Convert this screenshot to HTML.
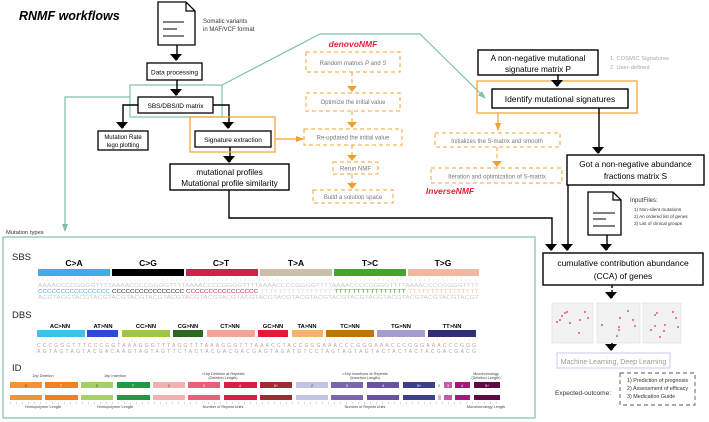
<!DOCTYPE html>
<html><head><meta charset="utf-8"><style>
html,body{margin:0;padding:0;background:#fff;}
svg{display:block;font-family:"Liberation Sans",sans-serif;}
</style></head><body>
<svg width="709" height="422" viewBox="0 0 709 422" xmlns="http://www.w3.org/2000/svg">
<defs>
<marker id="ab" markerWidth="6" markerHeight="5" refX="5" refY="2.5" orient="auto" markerUnits="userSpaceOnUse" viewBox="0 0 6 5"><path d="M0,0 L6,2.5 L0,5z" fill="#000"/></marker>
<marker id="abig" markerWidth="12" markerHeight="7" refX="7" refY="6" orient="0" markerUnits="userSpaceOnUse" viewBox="0 0 12 7"><path d="M0,0 L12,0 L6,7z" fill="#000"/></marker>
<marker id="ao" markerWidth="8" markerHeight="6" refX="7" refY="3" orient="auto" markerUnits="userSpaceOnUse"><path d="M0,0 L8,3 L0,6z" fill="#f0a030"/></marker>
<marker id="at" markerWidth="8" markerHeight="6" refX="7" refY="3" orient="auto" markerUnits="userSpaceOnUse"><path d="M0,0 L8,3 L0,6z" fill="#7fc0aa"/></marker>
</defs>

<text x="19" y="20" font-size="12.5" font-weight="bold" font-style="italic">RNMF workflows</text>

<!-- doc icon 1 -->
<path d="M158,2 L186,2 L195,11 L195,45 L158,45z" fill="#fff" stroke="#000" stroke-width="1.3"/>
<path d="M186,2 L186,11 L195,11" fill="none" stroke="#000" stroke-width="1.2"/>
<line x1="163" y1="22" x2="184" y2="22" stroke="#000"/>
<line x1="163" y1="29" x2="177" y2="29" stroke="#000"/>
<line x1="163" y1="36" x2="184" y2="36" stroke="#000"/>
<text x="203" y="23" font-size="6" fill="#333">Somatic variants</text>
<text x="203" y="31" font-size="6" fill="#333">in MAF/VCF format</text>

<!-- teal lines -->
<g stroke="#7fc0aa" stroke-width="1.2" fill="none">
<rect x="130" y="85" width="92" height="32"/>
<polyline points="222,85 320,34 420,34 485,98" marker-end="url(#at)"/>
<polyline points="130,97 65,97 65,231" marker-end="url(#at)"/>
<rect x="3" y="237" width="532" height="181"/>
</g>

<!-- left flow -->
<g stroke="#000" stroke-width="1.4" fill="none">
<line x1="177" y1="45" x2="177" y2="60" marker-end="url(#abig)"/>
<line x1="177" y1="80" x2="177" y2="95" marker-end="url(#abig)"/>
<polyline points="138,105 123,105 123,128" marker-end="url(#abig)"/>
<polyline points="213,105 229,105 229,128" marker-end="url(#abig)"/>
<line x1="230" y1="147" x2="230" y2="162" marker-end="url(#abig)"/>
<polyline points="229,190 229,218 552,218 552,250" marker-end="url(#abig)"/>
</g>
<rect x="147" y="63" width="55" height="17" fill="#fff" stroke="#000" stroke-width="1.3"/>
<text x="174.5" y="74.5" font-size="6.5" text-anchor="middle">Data processing</text>
<rect x="138" y="97" width="75" height="16" fill="#fff" stroke="#000" stroke-width="1.3"/>
<text x="175.5" y="108" font-size="6.5" text-anchor="middle">SBS/DBS/ID matrix</text>
<rect x="98" y="131" width="50" height="19" fill="#fff" stroke="#000" stroke-width="1.3"/>
<text x="123" y="139" font-size="6" text-anchor="middle">Mutation Rate</text>
<text x="123" y="147" font-size="6" text-anchor="middle">lego plotting</text>
<rect x="190" y="117" width="85" height="35" fill="none" stroke="#f0a030" stroke-width="1.2"/>
<rect x="195" y="131" width="76" height="16" fill="#fff" stroke="#000" stroke-width="1.3"/>
<text x="233" y="142" font-size="6.5" text-anchor="middle">Signature extraction</text>
<line x1="275" y1="139" x2="303" y2="139" stroke="#f0a030" stroke-width="1.2" marker-end="url(#ao)"/>
<rect x="170" y="164" width="119" height="26" fill="#fff" stroke="#000" stroke-width="1.4"/>
<text x="229.5" y="175" font-size="8.2" text-anchor="middle">mutational profiles</text>
<text x="229.5" y="186" font-size="8.2" text-anchor="middle">Mutational profile similarity</text>

<!-- denovoNMF -->
<text x="353" y="47" font-size="8.5" font-weight="bold" font-style="italic" fill="#e8203a" text-anchor="middle">denovoNMF</text>
<g fill="#fff" stroke="#f0a030" stroke-width="1" stroke-dasharray="4,3">
<rect x="306" y="52" width="94" height="20"/>
<rect x="306" y="93" width="94" height="18"/>
<rect x="304" y="129" width="98" height="16"/>
<rect x="333" y="162" width="45" height="12"/>
<rect x="313" y="190" width="80" height="13"/>
<line x1="352" y1="72" x2="352" y2="88"/>
<line x1="352" y1="111" x2="352" y2="124"/>
<line x1="352" y1="145" x2="352" y2="157"/>
<line x1="352" y1="174" x2="352" y2="185"/>
</g>
<g fill="#f0a030"><path d="M347,86 L357,86 L352,92z"/><path d="M347,122 L357,122 L352,128z"/><path d="M347,155 L357,155 L352,161z"/><path d="M347,183 L357,183 L352,189z"/></g>
<g font-size="6" fill="#777" text-anchor="middle">
<text x="353" y="65">Random matrixs <tspan font-style="italic">P</tspan> and <tspan font-style="italic">S</tspan></text>
<text x="353" y="104">Optimize the initial value</text>
<text x="353" y="139.5">Re-updated the initial value</text>
<text x="355.5" y="170.5">Rerun NMF</text>
<text x="353" y="199">Build a solution space</text>
</g>

<!-- right top -->
<rect x="478" y="50" width="120" height="25" fill="#fff" stroke="#000" stroke-width="1.4"/>
<text x="538" y="61" font-size="8.2" text-anchor="middle">A non-negative mutational</text>
<text x="538" y="72" font-size="8.2" text-anchor="middle">signature matrix P</text>
<text x="610" y="60" font-size="5.8" fill="#aaa">1. COSMIC Signatures</text>
<text x="610" y="69" font-size="5.8" fill="#aaa">2. User-defined</text>
<rect x="477" y="81" width="160" height="32" fill="none" stroke="#f0a030" stroke-width="1.2"/>
<line x1="558" y1="75" x2="558" y2="86" stroke="#000" stroke-width="1.4" marker-end="url(#abig)"/>
<rect x="492" y="89" width="136" height="19" fill="#fff" stroke="#000" stroke-width="1.4"/>
<text x="560" y="102" font-size="8.5" text-anchor="middle">Identify mutational signatures</text>
<line x1="498" y1="113" x2="498" y2="130" stroke="#f0a030" stroke-width="1.2" marker-end="url(#ao)"/>
<line x1="599" y1="108" x2="599" y2="153" stroke="#000" stroke-width="1.4" marker-end="url(#abig)"/>
<g fill="#fff" stroke="#f0a030" stroke-width="1" stroke-dasharray="4,3">
<rect x="435" y="133" width="125" height="14"/>
<rect x="431" y="168" width="131" height="15"/>
<line x1="497" y1="147" x2="497" y2="162"/>
</g>
<path d="M492,161 L502,161 L497,167z" fill="#f0a030"/>
<text x="497" y="143" font-size="6" fill="#777" text-anchor="middle">Initializes the S-matrix and smooth</text>
<text x="497" y="178.5" font-size="6" fill="#777" text-anchor="middle">Iteration and optimization of S-matrix</text>
<text x="450" y="194" font-size="8.5" font-weight="bold" font-style="italic" fill="#e8203a" text-anchor="middle">InverseNMF</text>

<rect x="567" y="155" width="137" height="30" fill="#fff" stroke="#000" stroke-width="1.4"/>
<text x="635.5" y="167" font-size="8.2" text-anchor="middle">Got a non-negative abundance</text>
<text x="635.5" y="179" font-size="8.2" text-anchor="middle">fractions matrix S</text>
<line x1="568" y1="185" x2="568" y2="250" stroke="#000" stroke-width="1.4" marker-end="url(#abig)"/>

<!-- doc icon 2 -->
<path d="M588,192 L613,192 L621,200 L621,235 L588,235z" fill="#fff" stroke="#000" stroke-width="1.3"/>
<path d="M613,192 L613,200 L621,200" fill="none" stroke="#000" stroke-width="1.2"/>
<line x1="593" y1="213" x2="615" y2="213" stroke="#000"/>
<line x1="593" y1="219" x2="606" y2="219" stroke="#000"/>
<line x1="593" y1="226" x2="615" y2="226" stroke="#000"/>
<line x1="607" y1="235" x2="607" y2="250" stroke="#000" stroke-width="1.4" marker-end="url(#abig)"/>
<text x="630" y="202" font-size="6" fill="#333">InputFiles:</text>
<text x="634" y="211" font-size="4.6" fill="#333">1) Non-silent mutations</text>
<text x="634" y="218" font-size="4.6" fill="#333">2) An ordered list of genes</text>
<text x="634" y="225" font-size="4.6" fill="#333">3) List of clinical groups</text>

<rect x="543" y="253" width="160" height="32" fill="#fff" stroke="#000" stroke-width="1.4"/>
<text x="623" y="266" font-size="8.5" text-anchor="middle">cumulative contribution abundance</text>
<text x="623" y="279" font-size="8.5" text-anchor="middle">(CCA) of genes</text>
<line x1="612" y1="285" x2="612" y2="298" stroke="#000" stroke-width="1.4" stroke-dasharray="3,2" marker-end="url(#abig)"/>

<g fill="#f2f2f2" stroke="#ddd" stroke-width="0.6">
<rect x="552" y="303" width="41" height="40"/><rect x="597" y="303" width="43" height="40"/><rect x="643" y="303" width="38" height="40"/>
</g>
<g fill="#e03040">
<circle cx="562" cy="316" r="0.9"/><circle cx="565" cy="313" r="0.9"/><circle cx="567" cy="312" r="0.9"/><circle cx="560" cy="320" r="0.9"/><circle cx="585" cy="312" r="0.9"/><circle cx="580" cy="320" r="0.9"/><circle cx="588" cy="318" r="0.9"/><circle cx="570" cy="323" r="0.9"/><circle cx="579" cy="333" r="0.9"/><circle cx="557" cy="322" r="0.9"/>
<circle cx="628" cy="311" r="0.9"/><circle cx="633" cy="320" r="0.9"/><circle cx="619" cy="327" r="0.9"/><circle cx="619" cy="330" r="0.9"/><circle cx="602" cy="325" r="0.9"/><circle cx="617" cy="336" r="0.9"/><circle cx="635" cy="326" r="0.9"/><circle cx="620" cy="318" r="0.9"/>
<circle cx="655" cy="315" r="0.9"/><circle cx="657" cy="313" r="0.9"/><circle cx="673" cy="312" r="0.9"/><circle cx="676" cy="318" r="0.9"/><circle cx="665" cy="325" r="0.9"/><circle cx="655" cy="326" r="0.9"/><circle cx="664" cy="331" r="0.9"/><circle cx="651" cy="330" r="0.9"/><circle cx="678" cy="327" r="0.9"/><circle cx="660" cy="337" r="0.9"/>
</g>
<line x1="612" y1="343" x2="612" y2="350" stroke="#000" stroke-width="1.4" marker-end="url(#abig)"/>
<rect x="557" y="353" width="113" height="15" fill="#fff" stroke="#c8c8e8" stroke-width="1"/>
<text x="613.5" y="364" font-size="7" fill="#999" text-anchor="middle">Machine Learning, Deep Learning</text>
<text x="555" y="395" font-size="6.5" fill="#333">Expected-outcome:</text>
<rect x="620" y="373" width="75" height="32" fill="none" stroke="#555" stroke-width="0.9" stroke-dasharray="4,3"/>
<text x="627" y="382" font-size="5.4" fill="#333">1) Prediction of prognosis</text>
<text x="627" y="390" font-size="5.4" fill="#333">2) Assessment of efficacy</text>
<text x="627" y="398" font-size="5.4" fill="#333">3) Medication Guide</text>

<!-- mutation types -->
<text x="6" y="234" font-size="5.8" fill="#333">Mutation types</text>
<text x="12" y="260" font-size="9.5" fill="#222">SBS</text>
<g font-size="8.5" font-weight="bold" text-anchor="middle">
<text x="74" y="266">C&gt;A</text><text x="148" y="266">C&gt;G</text><text x="221" y="266">C&gt;T</text><text x="296" y="266">T&gt;A</text><text x="370" y="266">T&gt;C</text><text x="443" y="266">T&gt;G</text>
</g>
<rect x="38" y="269" width="72" height="7" fill="#3caee0"/><rect x="112" y="269" width="72" height="7" fill="#000"/><rect x="186" y="269" width="72" height="7" fill="#d3204a"/><rect x="260" y="269" width="72" height="7" fill="#cbbfa7"/><rect x="334" y="269" width="72" height="7" fill="#48a131"/><rect x="408" y="269" width="71" height="7" fill="#f3b79d"/>
<line x1="38" y1="280" x2="479" y2="280" stroke="#bbb" stroke-width="1.2" stroke-dasharray="0.5,4.1"/>
<g font-size="5" font-family="Liberation Sans,sans-serif">
<text x="38" y="287" textLength="441" lengthAdjust="spacingAndGlyphs" fill="#ccc">AAAACCCCGGGGTTTTAAAACCCCGGGGTTTTAAAACCCCGGGGTTTTAAAACCCCGGGGTTTTAAAACCCCGGGGTTTTAAAACCCCGGGGTTTT</text>
<text x="38" y="293" textLength="72" lengthAdjust="spacingAndGlyphs" fill="#3caee0">CCCCCCCCCCCCCCCC</text>
<text x="112" y="293" textLength="72" lengthAdjust="spacingAndGlyphs" fill="#222">CCCCCCCCCCCCCCCC</text>
<text x="186" y="293" textLength="72" lengthAdjust="spacingAndGlyphs" fill="#d3204a">CCCCCCCCCCCCCCCC</text>
<text x="260" y="293" textLength="72" lengthAdjust="spacingAndGlyphs" fill="#ddd">TTTTTTTTTTTTTTTT</text>
<text x="334" y="293" textLength="72" lengthAdjust="spacingAndGlyphs" fill="#48a131">TTTTTTTTTTTTTTTT</text>
<text x="408" y="293" textLength="71" lengthAdjust="spacingAndGlyphs" fill="#f3c5b0">TTTTTTTTTTTTTTTT</text>
<text x="38" y="299" textLength="441" lengthAdjust="spacingAndGlyphs" fill="#ccc">ACGTACGTACGTACGTACGTACGTACGTACGTACGTACGTACGTACGTACGTACGTACGTACGTACGTACGTACGTACGTACGTACGTACGTACGT</text>
</g>

<text x="12" y="318" font-size="9.5" fill="#222">DBS</text>
<g font-size="5.8" font-weight="bold" text-anchor="middle">
<text x="60" y="328">AC&gt;NN</text><text x="103" y="328">AT&gt;NN</text><text x="146" y="328">CC&gt;NN</text><text x="188" y="328">CG&gt;NN</text><text x="230" y="328">CT&gt;NN</text><text x="273" y="328">GC&gt;NN</text><text x="307" y="328">TA&gt;NN</text><text x="350" y="328">TC&gt;NN</text><text x="401" y="328">TG&gt;NN</text><text x="452" y="328">TT&gt;NN</text>
</g>
<rect x="37" y="330" width="48" height="7" fill="#3fc0ee"/><rect x="87" y="330" width="31" height="7" fill="#2f4bd6"/><rect x="122" y="330" width="48" height="7" fill="#9fc541"/><rect x="173" y="330" width="30" height="7" fill="#2b6b21"/><rect x="207" y="330" width="48" height="7" fill="#f4a29a"/><rect x="258" y="330" width="30" height="7" fill="#e21a39"/><rect x="292" y="330" width="31" height="7" fill="#f7b26c"/><rect x="326" y="330" width="48" height="7" fill="#c2720c"/><rect x="377" y="330" width="48" height="7" fill="#a69ccf"/><rect x="428" y="330" width="48" height="7" fill="#322d79"/>
<line x1="37" y1="340" x2="476" y2="340" stroke="#ccc" stroke-width="1" stroke-dasharray="0.5,4"/>
<text x="37" y="347" font-size="5" fill="#c99" textLength="439" lengthAdjust="spacing">CCCGGGTTTCCCGGTAAAGGGTTTAGGTTTAAAGGGTTTAAACCTACCGGGAAACCCGGGAAACCCGGGAAACCCGGG</text>
<text x="37" y="353" font-size="5" fill="#aaa" textLength="439" lengthAdjust="spacing">AGTAGTAGTACGACAAGTAGTAGTTCTACTACGACGACGAGTAGATGTCCTAGTAGTAGTACTACTACTACGACGACG</text>

<text x="12" y="371" font-size="9.5" fill="#222">ID</text>
<g font-size="3.8" fill="#444" text-anchor="middle">
<text x="43" y="377">1bp Deletion</text><text x="115" y="377">1bp Insertion</text>
<text x="223" y="375">&gt;1bp Deletion at Repeats</text><text x="223" y="379">(Deletion Length)</text>
<text x="365" y="375">&gt;1bp Insertions at Repeats</text><text x="365" y="379">(Insertion Length)</text>
<text x="486" y="375">Microhomology</text><text x="486" y="379">(Deletion Length)</text>
<text x="43" y="408">Homopolymer Length</text><text x="115" y="408">Homopolymer Length</text>
<text x="223" y="408">Number of Repeat Units</text><text x="365" y="408">Number of Repeat Units</text><text x="486" y="408">Microhomology Length</text>
</g>
<g>
<rect x="10" y="382" width="32" height="6" fill="#f39237"/><rect x="45" y="382" width="33" height="6" fill="#f08020"/>
<rect x="81" y="382" width="32" height="6" fill="#a4d065"/><rect x="117" y="382" width="33" height="6" fill="#1f9a43"/>
<rect x="153" y="382" width="32" height="6" fill="#f3b0b0"/><rect x="188" y="382" width="32" height="6" fill="#e9607a"/><rect x="224" y="382" width="33" height="6" fill="#d51f45"/><rect x="260" y="382" width="32" height="6" fill="#a12a33"/>
<rect x="296" y="382" width="32" height="6" fill="#c4c3e3"/><rect x="331" y="382" width="32" height="6" fill="#7b66b0"/><rect x="367" y="382" width="32" height="6" fill="#6a52a3"/><rect x="403" y="382" width="32" height="6" fill="#3d3f8a"/>
<rect x="444" y="382" width="8" height="6" fill="#c658a4"/><rect x="455" y="382" width="15" height="6" fill="#a3197f"/><rect x="474" y="382" width="26" height="6" fill="#5f0a45"/>
<rect x="10" y="395" width="32" height="5" fill="#f39237"/><rect x="45" y="395" width="33" height="5" fill="#f08020"/>
<rect x="81" y="395" width="32" height="5" fill="#a4d065"/><rect x="117" y="395" width="33" height="5" fill="#1f9a43"/>
<rect x="153" y="395" width="32" height="5" fill="#f3b0b0"/><rect x="188" y="395" width="32" height="5" fill="#e9607a"/><rect x="224" y="395" width="33" height="5" fill="#d51f45"/><rect x="260" y="395" width="32" height="5" fill="#a12a33"/>
<rect x="296" y="395" width="32" height="5" fill="#c4c3e3"/><rect x="331" y="395" width="32" height="5" fill="#7b66b0"/><rect x="367" y="395" width="32" height="5" fill="#6a52a3"/><rect x="403" y="395" width="32" height="5" fill="#3d3f8a"/>
<rect x="438" y="395" width="3" height="5" fill="#e0b0d0"/><rect x="444" y="395" width="8" height="5" fill="#c658a4"/><rect x="455" y="395" width="15" height="5" fill="#a3197f"/><rect x="474" y="395" width="26" height="5" fill="#5f0a45"/>
</g>
<g font-size="3.5" fill="#fff" text-anchor="middle">
<text x="26" y="387" fill="#333">C</text><text x="61" y="387">T</text><text x="97" y="387" fill="#333">C</text><text x="133" y="387">T</text>
<text x="169" y="387" fill="#333">2</text><text x="204" y="387">3</text><text x="240" y="387">4</text><text x="276" y="387">5+</text>
<text x="312" y="387" fill="#333">2</text><text x="347" y="387">3</text><text x="383" y="387">4</text><text x="419" y="387">5+</text>
<text x="439" y="387" fill="#333">2</text><text x="448" y="387">3</text><text x="462" y="387">4</text><text x="487" y="387">5+</text>
</g>
<line x1="10" y1="403" x2="500" y2="403" stroke="#999" stroke-width="2" stroke-dasharray="0.4,5.6"/>
</svg>
</body></html>
